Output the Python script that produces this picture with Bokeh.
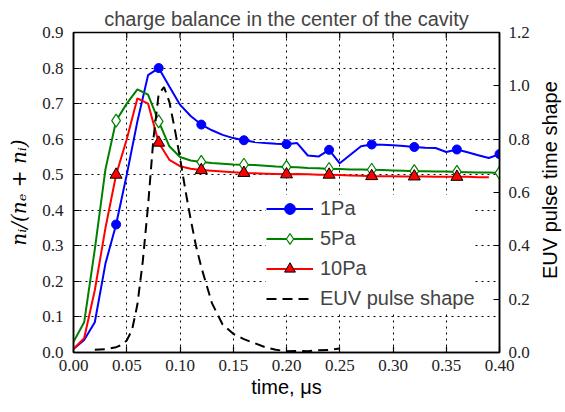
import math
from bokeh.plotting import figure
from bokeh.layouts import row
from bokeh.models import (Range1d, LinearAxis, FixedTicker, PrintfTickFormatter,
                          Legend, LegendItem, Label)
from bokeh.embed import file_html
from bokeh.resources import INLINE

# ---- data ----
time_us = [0.00, 0.01, 0.02, 0.03, 0.04, 0.05, 0.06, 0.07, 0.08, 0.09,
           0.10, 0.11, 0.12, 0.13, 0.14, 0.15, 0.16, 0.17, 0.18, 0.19,
           0.20, 0.21, 0.22, 0.23, 0.24, 0.25, 0.26, 0.27, 0.28, 0.29,
           0.30, 0.31, 0.32, 0.33, 0.34, 0.35, 0.36, 0.37, 0.38, 0.39,
           0.40]

pa1 = [0.010, 0.035, 0.085, 0.250, 0.360, 0.500, 0.650, 0.780, 0.800, 0.748,
       0.697, 0.665, 0.641, 0.625, 0.612, 0.603, 0.597, 0.592, 0.589, 0.587,
       0.586, 0.589, 0.554, 0.551, 0.570, 0.532, 0.556, 0.580, 0.585, 0.584,
       0.583, 0.581, 0.578, 0.576, 0.575, 0.564, 0.571, 0.563, 0.555, 0.547,
       0.558]

pa5 = [0.030, 0.085, 0.290, 0.515, 0.652, 0.700, 0.740, 0.725, 0.650, 0.580,
       0.550, 0.540, 0.536, 0.533, 0.531, 0.529, 0.528, 0.527, 0.525, 0.523,
       0.522, 0.521, 0.519, 0.518, 0.516, 0.516, 0.515, 0.515, 0.514, 0.513,
       0.512, 0.511, 0.510, 0.510, 0.509, 0.509, 0.508, 0.507, 0.506, 0.506,
       0.505]

pa10 = [0.010, 0.040, 0.175, 0.350, 0.500, 0.600, 0.715, 0.700, 0.590, 0.542,
        0.524, 0.517, 0.513, 0.511, 0.509, 0.507, 0.505, 0.504, 0.503, 0.502,
        0.501, 0.502, 0.501, 0.500, 0.500, 0.499, 0.498, 0.497, 0.496, 0.496,
        0.496, 0.495, 0.495, 0.495, 0.494, 0.494, 0.494, 0.494, 0.493, 0.493]

euv_t = [0.020, 0.030, 0.040, 0.045, 0.050, 0.055, 0.060, 0.065, 0.070, 0.075,
         0.080, 0.085, 0.090, 0.095, 0.100, 0.105, 0.110, 0.115, 0.120, 0.130,
         0.140, 0.150, 0.160, 0.170, 0.180, 0.190, 0.200, 0.210, 0.220, 0.230,
         0.240, 0.250]
euv_v = [0.010, 0.012, 0.020, 0.028, 0.045, 0.085, 0.180, 0.340, 0.550, 0.800,
         0.970, 0.995, 0.940, 0.840, 0.730, 0.610, 0.500, 0.400, 0.320, 0.185,
         0.105, 0.070, 0.050, 0.035, 0.020, 0.010, 0.005, 0.006, 0.005, 0.008,
         0.010, 0.015]

x_ticks = [0.00, 0.05, 0.10, 0.15, 0.20, 0.25, 0.30, 0.35, 0.40]
y_ticks = [0.0, 0.1, 0.2, 0.3, 0.4, 0.5, 0.6, 0.7, 0.8, 0.9]
y2_ticks = [0.0, 0.2, 0.4, 0.6, 0.8, 1.0, 1.2]

title_text = "charge balance in the center of the cavity"
x_label = "time, μs"
y_label = "nᵢ/(nₑ + nᵢ)"
y2_label = "EUV pulse time shape"
labels = ["1Pa", "5Pa", "10Pa", "EUV pulse shape"]
MARK_EVERY = 4

SANS = "'Liberation Sans'"
SERIF = "'Liberation Serif'"
MATH = "'DejaVu Serif'"

H = 412
MAIN_W, SIDE_W = 535, 30
YMAX = 0.9
TOP_TICK = 0.016  # inward tick length at the top spine, in data units

p = figure(width=MAIN_W, height=H, output_backend="svg", toolbar_location=None,
           x_range=Range1d(0, 0.40), y_range=Range1d(0, YMAX),
           min_border_left=73, min_border_right=36, min_border_top=32,
           min_border_bottom=60, background_fill_color="white",
           border_fill_color="white")
p.extra_y_ranges = {"euv": Range1d(0, 1.2)}

p.title.text = title_text
p.title.text_font = SANS
p.title.text_font_size = "20px"
p.title.text_font_style = "normal"
p.title.align = "center"
p.title.vertical_align = "top"
p.title.standoff = 2

p.outline_line_color = "black"
p.outline_line_width = 1.5
p.outline_line_alpha = 1.0

# grids
for g in (p.xgrid[0], p.ygrid[0]):
    g.grid_line_color = "black"
    g.grid_line_dash = "2 4"
    g.grid_line_width = 1
    g.grid_line_alpha = 1.0
p.xgrid[0].ticker = FixedTicker(ticks=x_ticks)
p.ygrid[0].ticker = FixedTicker(ticks=y_ticks)

def style_axis(ax, ticks, fmt, standoff):
    ax.ticker = FixedTicker(ticks=ticks)
    ax.formatter = PrintfTickFormatter(format=fmt)
    ax.major_tick_in = 6
    ax.major_tick_out = 0
    ax.minor_tick_in = 0
    ax.minor_tick_out = 0
    ax.major_tick_line_width = 1.2
    ax.axis_line_width = 1.5
    ax.major_label_text_font = SERIF
    ax.major_label_text_font_size = "17px"
    ax.major_label_text_color = "#222222"
    ax.major_label_standoff = standoff
    ax.axis_label_text_font_size = "20px"
    ax.axis_label_text_font_style = "normal"
    ax.axis_label_text_color = "black"

xa = p.xaxis[0]
style_axis(xa, x_ticks, "%.2f", 7)
xa.axis_label = x_label
xa.axis_label_text_font = SANS
xa.axis_label_standoff = 2

ya = p.yaxis[0]
style_axis(ya, y_ticks, "%.1f", 10)
ya.axis_label = y_label
ya.axis_label_text_font = MATH
ya.axis_label_text_font_style = "italic"
ya.axis_label_standoff = 8

ra = LinearAxis(y_range_name="euv")
style_axis(ra, y2_ticks, "%.1f", 9)
p.add_layout(ra, "right")

# inward ticks on the top spine
p.segment(x0=x_ticks, y0=[YMAX] * len(x_ticks), x1=x_ticks,
          y1=[YMAX - TOP_TICK] * len(x_ticks), line_color="black", line_width=1.2)

# series
l1 = p.line(time_us, pa1, line_color="#0000ff", line_width=2)
m1 = p.scatter(time_us[MARK_EVERY::MARK_EVERY], pa1[MARK_EVERY::MARK_EVERY],
               marker="circle", size=9, fill_color="#0000ff", line_color="#0000ff")

l5 = p.line(time_us, pa5, line_color="#008000", line_width=2)
m5 = p.scatter(time_us[MARK_EVERY::MARK_EVERY], pa5[MARK_EVERY::MARK_EVERY],
               marker="diamond", size=13, fill_color="white", line_color="#008000",
               line_width=1.2)

t10 = time_us[:len(pa10)]
l10 = p.line(t10, pa10, line_color="#ff0000", line_width=2)
m10 = p.scatter(t10[MARK_EVERY::MARK_EVERY], pa10[MARK_EVERY::MARK_EVERY],
                marker="triangle", size=12, fill_color="#ff0000", line_color="black",
                line_width=1)

le = p.line(euv_t, euv_v, y_range_name="euv", line_color="black", line_width=2,
            line_dash="10 6")

legend = Legend(items=[
    LegendItem(label=labels[0], renderers=[l1, m1]),
    LegendItem(label=labels[1], renderers=[l5, m5]),
    LegendItem(label=labels[2], renderers=[l10, m10]),
    LegendItem(label=labels[3], renderers=[le]),
], location=(193, 40))
legend.label_text_font = SANS
legend.label_text_font_size = "20px"
legend.glyph_width = 47
legend.glyph_height = 27
legend.label_height = 27
legend.label_standoff = 7
legend.spacing = 3
legend.padding = 5
legend.margin = 0
legend.border_line_color = None
legend.background_fill_color = "white"
legend.background_fill_alpha = 1.0
p.add_layout(legend, "center")

# narrow side panel holding the right-hand axis label, read bottom-to-top
side = figure(width=SIDE_W, height=H, output_backend="svg", toolbar_location=None,
              x_range=Range1d(0, SIDE_W), y_range=Range1d(0, H),
              min_border=0, outline_line_color=None,
              background_fill_color="white", border_fill_color="white")
side.axis.visible = False
side.grid.visible = False
side.add_layout(Label(x=14, y=H - 190, text=y2_label, text_font=SANS,
                      text_font_size="20px", angle=math.pi / 2,
                      text_align="center", text_baseline="middle",
                      text_color="black"))

layout = row(p, side, spacing=0)
open("out.html", "w").write(file_html(layout, INLINE))
